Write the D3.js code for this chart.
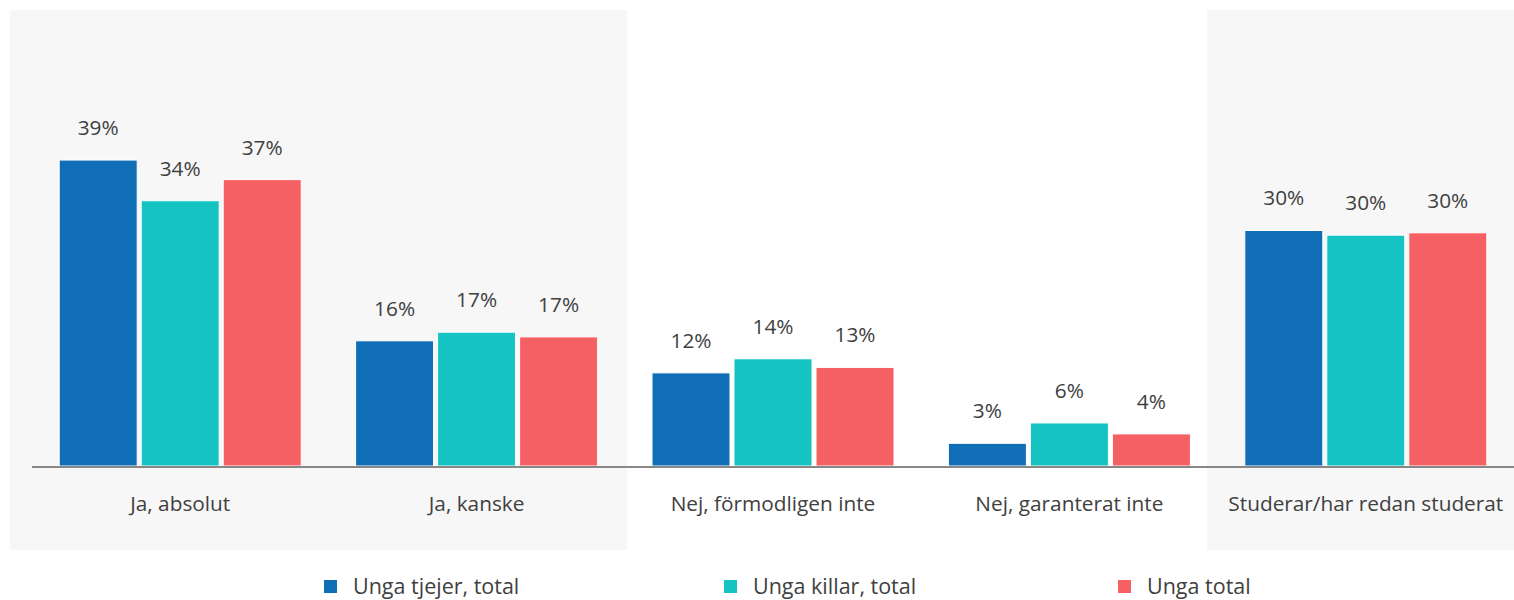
<!DOCTYPE html>
<html>
<head>
<meta charset="utf-8">
<script src="https://cdn.jsdelivr.net/npm/d3@7"></script>
<style>
  body { margin: 0; background: #fff; }
  text { font-family: "Open Sans", sans-serif; fill: #404040; }
</style>
</head>
<body>
<script>
// data
var categories = ["Ja, absolut", "Ja, kanske", "Nej, förmodligen inte", "Nej, garanterat inte", "Studerar/har redan studerat"];
var seriesNames = ["Unga tjejer, total", "Unga killar, total", "Unga total"];
var tjejer = [39.1, 16.0, 11.9, 2.9, 30.1];
var killar = [33.9, 17.1, 13.7, 5.5, 29.5];
var total  = [36.6, 16.5, 12.6, 4.1, 29.8];
var colors = ["#106eb6", "#15c3c3", "#f46063"];

var W = 1514, H = 600;
var svg = d3.select("body").append("svg").attr("width", W).attr("height", H);

var x = d3.scaleBand().domain(categories).range([32, 1514]);
var y = d3.scaleLinear().domain([0, 40]).range([466, 153]);
var xs = d3.scaleBand().domain(d3.range(3)).range([-121, 121]).paddingInner(0.049);

// grey panels behind first, second and last category
svg.append("rect").attr("x", 10).attr("y", 10).attr("width", 617).attr("height", 540).attr("fill", "#f7f7f7");
svg.append("rect").attr("x", 1207).attr("y", 10).attr("width", 307).attr("height", 540).attr("fill", "#f7f7f7");

var rows = categories.map(function(c, i) {
  return { cat: c, vals: [tjejer[i], killar[i], total[i]] };
});

var g = svg.selectAll("g.grp").data(rows).enter().append("g")
  .attr("class", "grp")
  .attr("transform", function(d) { return "translate(" + (x(d.cat) + x.bandwidth() / 2) + ",0)"; });

g.selectAll("rect").data(function(d) { return d.vals; }).enter().append("rect")
  .attr("x", function(d, i) { return xs(i); })
  .attr("width", xs.bandwidth())
  .attr("y", function(d) { return y(d); })
  .attr("height", function(d) { return y(0) - y(d); })
  .attr("fill", function(d, i) { return colors[i]; })
  .attr("stroke", "#fff").attr("stroke-width", 1);

g.selectAll("text.val").data(function(d) { return d.vals; }).enter().append("text")
  .attr("class", "val")
  .attr("x", function(d, i) { return xs(i) + xs.bandwidth() / 2; })
  .attr("y", function(d) { return y(d) - 25; })
  .attr("text-anchor", "middle")
  .style("font-size", "20.8px")
  .text(function(d) { return Math.round(d) + "%"; });

// baseline
svg.append("line").attr("x1", 32).attr("x2", 1514).attr("y1", y(0) + 1).attr("y2", y(0) + 1)
  .attr("stroke", "#888").attr("stroke-width", 2);

// category labels
var xAxis = svg.append("g").attr("transform", "translate(0," + y(0) + ")")
  .call(d3.axisBottom(x).tickSize(0).tickPadding(0));
xAxis.select(".domain").remove();
xAxis.selectAll("text").attr("dy", null).attr("y", 45).style("font-size", "20.8px").attr("fill", null);

// legend
var legX = [324, 724, 1118];
var leg = svg.selectAll("g.leg").data(seriesNames).enter().append("g")
  .attr("class", "leg")
  .attr("transform", function(d, i) { return "translate(" + legX[i] + ",580)"; });
leg.append("rect").attr("width", 13).attr("height", 13).attr("fill", function(d, i) { return colors[i]; });
leg.append("text").attr("x", 29).attr("y", 14).style("font-size", "21.5px").text(function(d) { return d; });
</script>
</body>
</html>
